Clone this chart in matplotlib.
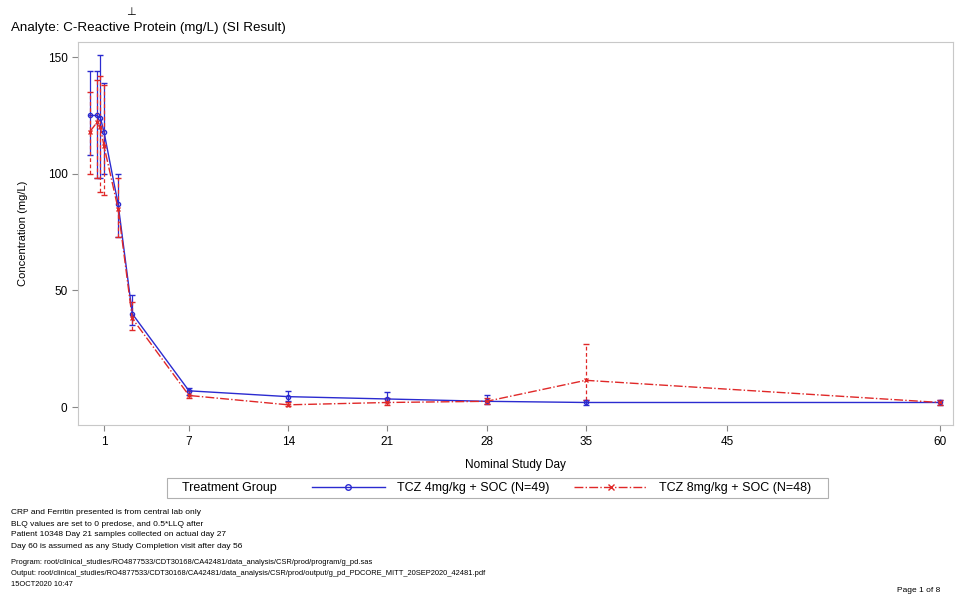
import matplotlib
matplotlib.use("Agg")
import matplotlib.pyplot as plt
from matplotlib.lines import Line2D
from matplotlib.patches import Rectangle

plt.rcParams['font.family'] = ['Liberation Sans', 'DejaVu Sans']

# nominal study day of each sample
days = [0, 0.5, 0.75, 1, 2, 3, 7, 14, 21, 28, 35, 60]

# TCZ 4mg/kg + SOC
blue_mean = [125, 125, 124, 118, 87, 40, 7, 4.5, 3.5, 2.5, 2, 2]
blue_lo = [108, 98, 98, 100, 73, 35, 5, 2.5, 2, 1.5, 1, 1]
blue_hi = [144, 144, 151, 139, 100, 48, 8, 7, 6.5, 5, 3, 3]

# TCZ 8mg/kg + SOC
red_mean = [118, 122, 120, 112, 85, 38, 5, 1, 2, 2.5, 11.5, 2]
red_lo = [100, 98, 92, 91, 73, 33, 4, 0.5, 1, 1.5, 3, 1]
red_hi = [135, 140, 142, 138, 98, 45, 7, 2, 4, 4, 27, 3]

xticks = [1, 7, 14, 21, 28, 35, 45, 60]
yticks = [0, 50, 100, 150]

blue = '#2b2bd0'
red = '#e02828'

fig = plt.figure(figsize=(9.55, 6.03), dpi=100)
ax = fig.add_axes([0.0817, 0.295, 0.916, 0.635])

def yerr(mean, lo, hi):
    return [[m - l for m, l in zip(mean, lo)], [h - m for m, h in zip(mean, hi)]]

eb1 = ax.errorbar(days, blue_mean, yerr=yerr(blue_mean, blue_lo, blue_hi),
                  color=blue, lw=1, marker='o', ms=3, mfc='none', capsize=2,
                  elinewidth=0.9)
eb2 = ax.errorbar(days, red_mean, yerr=yerr(red_mean, red_lo, red_hi),
                  color=red, lw=1, ls='-.', marker='x', ms=3, capsize=2,
                  elinewidth=0.9)
for c in eb2[2]:
    c.set_linestyle((0, (3, 2)))

ax.set_xlim(-0.83, 60.9)
ax.set_ylim(-7.7, 156.4)
ax.set_xticks(xticks)
ax.set_yticks(yticks)
ax.tick_params(labelsize=8.5, color='#888888', length=4)
for s in ax.spines.values():
    s.set_color('#c8c8c8')
ax.set_xlabel('Nominal Study Day', fontsize=8.5, labelpad=8)
ax.set_ylabel('Concentration (mg/L)', fontsize=8, labelpad=14)

fig.text(0.012, 0.948, 'Analyte: C-Reactive Protein (mg/L) (SI Result)', fontsize=9.6)
fig.text(0.132, 0.975, '⊥', fontsize=8)

# legend: frame, group label and two entries
fig.patches.append(Rectangle((167 / 955, 1 - 498 / 603), 661 / 955, 20 / 603,
                             transform=fig.transFigure, fill=False,
                             edgecolor='#b0b0b0', lw=0.8))
fig.text(182 / 955, 1 - 488 / 603, 'Treatment Group', fontsize=9, va='center')
handles = [Line2D([], [], color=blue, lw=1, marker='o', ms=4, mfc='none'),
           Line2D([], [], color=red, lw=1, ls='-.', marker='x', ms=5)]
labels = ['TCZ 4mg/kg + SOC (N=49)', 'TCZ 8mg/kg + SOC (N=48)']
fig.legend(handles, labels, ncol=2, loc='center left',
           bbox_to_anchor=(312 / 955, 1 - 488 / 603), borderaxespad=0, borderpad=0,
           fontsize=9, frameon=False, handlelength=5.8, handletextpad=1.0,
           columnspacing=2.0)

notes = ['CRP and Ferritin presented is from central lab only',
         'BLQ values are set to 0 predose, and 0.5*LLQ after',
         'Patient 10348 Day 21 samples collected on actual day 27',
         'Day 60 is assumed as any Study Completion visit after day 56']
for i, t in enumerate(notes):
    fig.text(0.012, 1 - (513 + i * 11) / 603, t, fontsize=6, va='center')

prog = ['Program: root/clinical_studies/RO4877533/CDT30168/CA42481/data_analysis/CSR/prod/program/g_pd.sas',
        'Output: root/clinical_studies/RO4877533/CDT30168/CA42481/data_analysis/CSR/prod/output/g_pd_PDCORE_MITT_20SEP2020_42481.pdf',
        '15OCT2020 10:47']
for i, t in enumerate(prog):
    fig.text(0.012, 1 - (563 + i * 10.5) / 603, t, fontsize=5.4, va='center')

fig.text(0.985, 1 - 590 / 603, 'Page 1 of 8', fontsize=6, ha='right', va='center')

fig.savefig('out.png', dpi=100)
